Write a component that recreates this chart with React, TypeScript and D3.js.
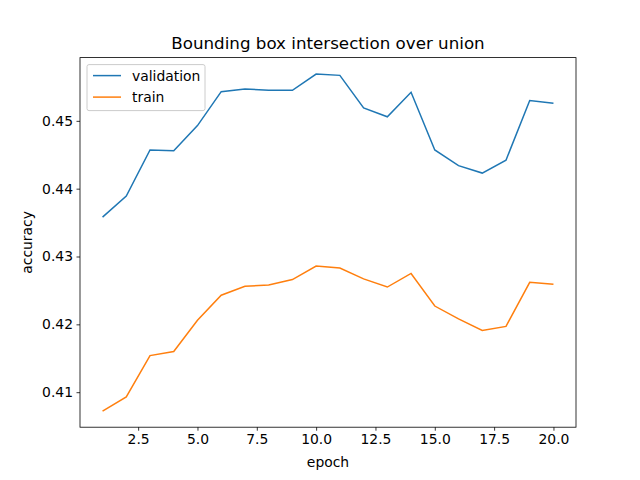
import { useEffect, useRef } from 'react';
import * as d3 from 'd3';

const epochs = d3.range(1, 21);
const validation = [0.4358, 0.4389, 0.4457, 0.4456, 0.4493, 0.4543, 0.4547, 0.4545, 0.4545, 0.4569,
  0.4567, 0.4519, 0.4506, 0.4542, 0.4457, 0.4434, 0.4423, 0.4442, 0.4530, 0.4526];
const train = [0.4072, 0.4093, 0.4154, 0.4160, 0.4206, 0.4243, 0.4256, 0.4258, 0.4266, 0.4286,
  0.4283, 0.4267, 0.4255, 0.4275, 0.4227, 0.4208, 0.4191, 0.4197, 0.4262, 0.4259];
const xTicks = [2.5, 5, 7.5, 10, 12.5, 15, 17.5, 20];
const yTicks = [0.41, 0.42, 0.43, 0.44, 0.45];
const seriesList = [
  { name: 'validation', values: validation, color: '#1f77b4' },
  { name: 'train', values: train, color: '#ff7f0e' },
];

export default function App() {
  const ref = useRef<SVGSVGElement>(null);

  useEffect(() => {
    if (!ref.current) return;
    const svg = d3.select(ref.current);
    svg.selectAll('*').remove();
    const m = { left: 80, right: 576, top: 57.6, bottom: 427.2 };
    const x = d3.scaleLinear().domain([0.05, 20.95]).range([m.left, m.right]);
    const y = d3.scaleLinear().domain([0.40484, 0.45932]).range([m.bottom, m.top]);
    const font = 'DejaVu Sans';
    const fs = 13.9;

    svg.append('rect').attr('width', 640).attr('height', 480).attr('fill', 'white');

    const line = d3.line<number>().x((_, i) => x(epochs[i])).y(d => y(d));
    seriesList.forEach(s => {
      svg.append('path').datum(s.values).attr('d', line).attr('fill', 'none')
        .attr('stroke', s.color).attr('stroke-width', 1.5);
    });

    svg.append('rect').attr('x', m.left).attr('y', m.top)
      .attr('width', m.right - m.left).attr('height', m.bottom - m.top)
      .attr('fill', 'none').attr('stroke', 'black').attr('stroke-width', 0.8);

    const xa = svg.append('g').attr('transform', `translate(0,${m.bottom})`)
      .call(d3.axisBottom(x).tickValues(xTicks).tickFormat(d3.format('.1f')).tickSize(3.5).tickPadding(3.5));
    const ya = svg.append('g').attr('transform', `translate(${m.left},0)`)
      .call(d3.axisLeft(y).tickValues(yTicks).tickFormat(d3.format('.2f')).tickSize(3.5).tickPadding(3.5));
    [xa, ya].forEach(a => {
      a.select('.domain').remove();
      a.selectAll('line').attr('stroke', 'black').attr('stroke-width', 0.8);
      a.selectAll('text').attr('font-family', font).attr('font-size', fs).attr('fill', 'black');
    });

    svg.append('text').attr('x', (m.left + m.right) / 2).attr('y', 49).attr('text-anchor', 'middle')
      .attr('font-family', font).attr('font-size', 16.7).text('Bounding box intersection over union');
    svg.append('text').attr('x', (m.left + m.right) / 2).attr('y', 467).attr('text-anchor', 'middle')
      .attr('font-family', font).attr('font-size', fs).text('epoch');
    svg.append('text').attr('transform', `translate(32,${(m.top + m.bottom) / 2}) rotate(-90)`)
      .attr('text-anchor', 'middle').attr('font-family', font).attr('font-size', fs).text('accuracy');

    const lg = svg.append('g').attr('transform', 'translate(87,64.6)');
    lg.append('rect').attr('width', 118).attr('height', 46).attr('rx', 2)
      .attr('fill', 'white').attr('fill-opacity', 0.8).attr('stroke', '#cccccc');
    seriesList.forEach((s, i) => {
      const cy = 11 + i * 21.5;
      lg.append('line').attr('x1', 6).attr('x2', 34).attr('y1', cy).attr('y2', cy)
        .attr('stroke', s.color).attr('stroke-width', 1.5);
      lg.append('text').attr('x', 45).attr('y', cy + 5).attr('font-family', font)
        .attr('font-size', fs).text(s.name);
    });
  }, []);

  return <svg ref={ref} width={640} height={480} style={{ display: 'block', margin: -8 }} />;
}
